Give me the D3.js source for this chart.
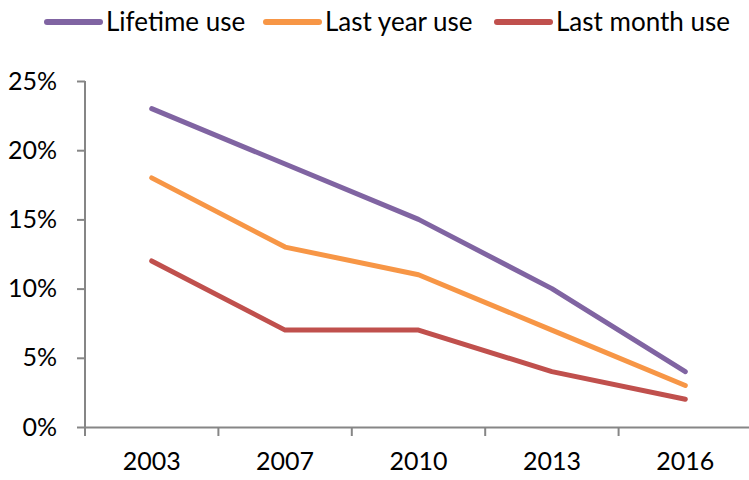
<!DOCTYPE html>
<html><head><meta charset="utf-8">
<script src="https://cdn.jsdelivr.net/npm/d3@7"></script>
<style>body{margin:0;background:#fff}svg{display:block}text{font-family:Lato,"Open Sans",sans-serif;fill:#000}</style>
</head><body><svg id="c" width="749" height="480"></svg>
<script>
const categories = ["2003","2007","2010","2013","2016"];
const seriesNames = ["Lifetime use","Last year use","Last month use"];
const lifetime = [23,19,15,10,4];
const lastYear = [18,13,11,7,3];
const lastMonth = [12,7,7,4,2];
const yTicks = [0,5,10,15,20,25];
const colors = ["#8064A2","#F79646","#C0504D"];
const seriesValues = [lifetime,lastYear,lastMonth];

const svg = d3.select("#c");
const x = d3.scaleBand().domain(categories).range([85,752]);
const y = d3.scaleLinear().domain([0,25]).range([427,81]);

// y axis
const ya = svg.append("g").attr("transform","translate(85,0)")
  .call(d3.axisLeft(y).tickValues(yTicks).tickSize(8).tickPadding(6).tickFormat(d=>d+"%"));
ya.select(".domain").attr("stroke","#868686").attr("stroke-width",2).attr("d","M0,81V427");
ya.selectAll(".tick line").attr("stroke","#868686").attr("stroke-width",2);
ya.selectAll(".tick text").attr("font-size",25).attr("font-family","Lato").attr("fill","#000").attr("dx",-14);

// x axis
const xa = svg.append("g").attr("transform","translate(0,427)")
  .call(d3.axisBottom(x).tickSize(0).tickPadding(25));
xa.select(".domain").attr("stroke","#868686").attr("stroke-width",2);
xa.selectAll(".tick text").attr("font-size",25).attr("font-family","Lato").attr("fill","#000");
const bounds = categories.map(c=>x(c)).concat([x(categories[categories.length-1])+x.bandwidth()]);
xa.selectAll(".bt").data(bounds).enter().append("line")
  .attr("x1",d=>d).attr("x2",d=>d).attr("y1",0).attr("y2",9)
  .attr("stroke","#868686").attr("stroke-width",2);

// lines
const line = d3.line().x((d,i)=>x(categories[i])+x.bandwidth()/2).y(d=>y(d));
seriesValues.forEach((vals,k)=>{
  svg.append("path").datum(vals).attr("d",line).attr("fill","none")
    .attr("stroke",colors[k]).attr("stroke-width",5).attr("stroke-linecap","round").attr("stroke-linejoin","round");
});

// legend
const legX = [47,266,497];
seriesNames.forEach((n,k)=>{
  const g = svg.append("g").attr("transform",`translate(${legX[k]},22)`);
  g.append("line").attr("x1",0).attr("x2",53).attr("stroke",colors[k]).attr("stroke-width",6).attr("stroke-linecap","round");
  g.append("text").attr("x",59).attr("y",9).attr("font-size",26).text(n);
});
</script></body></html>
